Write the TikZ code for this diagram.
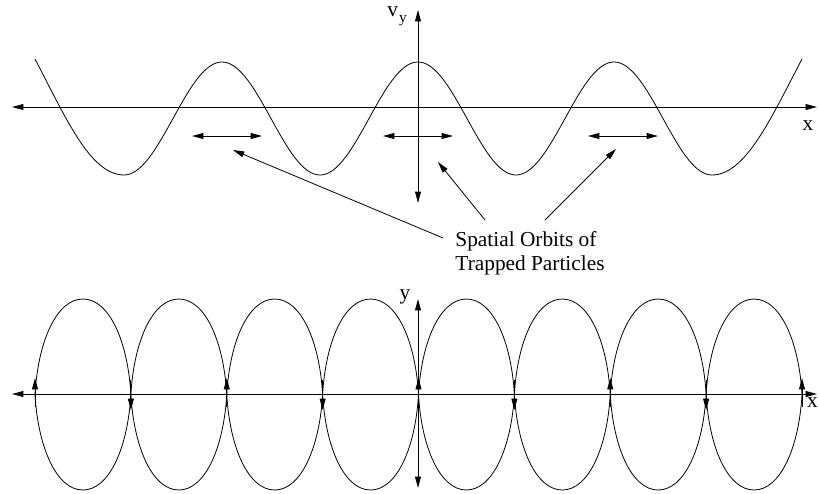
\documentclass[tikz,border=0pt]{standalone}
\usepackage{fontspec}
\setmainfont{Liberation Serif}
\usetikzlibrary{arrows.meta}
\begin{document}
\begin{tikzpicture}[x=0.75pt,y=-0.75pt,line width=0.7pt,
  tipend/.style={-{Triangle[length=8.5pt,width=4.4pt]}},
  tipboth/.style={{Triangle[length=8.5pt,width=4.4pt]}-{Triangle[length=8.5pt,width=4.4pt]}},
  lbl/.style={font=\fontsize{16}{18}\selectfont,inner sep=0pt},
  curve/.style={line width=0.6pt}]
\useasboundingbox (0,0) rectangle (818,493);
% ---------- top panel ----------
\coordinate (axl) at (12,107);
\coordinate (axr) at (817,107);
\coordinate (ayt) at (418,10);
\coordinate (ayb) at (418,203);
\draw[tipboth] (axl) -- (axr);
\draw[tipboth] (ayb) -- (ayt);
\node[lbl,anchor=base west] (vy) at (387,16.5) {v\kern0.8pt\raisebox{-4.6pt}{\fontsize{11.5}{12}\selectfont y}};
\node[lbl,anchor=base] (xt) at (808,130.5) {x};
% wave
\draw[curve] (35,59) .. controls (65,116) and (90,175) .. (124,175)
  -- plot[domain=124:712,samples=200] (\x,{118.5-56.5*cos((\x-418)*1.836735)})
  -- (712,175) .. controls (746,175) and (772,116) .. (802,59);
% orbit arrows
\coordinate (o1a) at (192,136); \coordinate (o1b) at (262,136);
\coordinate (o2a) at (383,136); \coordinate (o2b) at (453,136);
\coordinate (o3a) at (588,136); \coordinate (o3b) at (658,136);
\draw[tipboth] (o1a) -- (o1b);
\draw[tipboth] (o2a) -- (o2b);
\draw[tipboth] (o3a) -- (o3b);
% label
\node[lbl,anchor=base west] (t1) at (455,246) {Spatial Orbits of};
\node[lbl,anchor=base west] (t2) at (455,270) {Trapped Particles};
\coordinate (p1) at (443,238); \coordinate (q1) at (233,150);
\coordinate (p2) at (485,220); \coordinate (q2) at (438,162);
\coordinate (p3) at (545,220); \coordinate (q3) at (616,149);
\draw[tipend,line width=0.6pt] (p1) -- (q1);
\draw[tipend,line width=0.6pt] (p2) -- (q2);
\draw[tipend,line width=0.6pt] (p3) -- (q3);
% ---------- bottom panel ----------
\coordinate (bxl) at (12,394);
\coordinate (bxr) at (817,394);
\coordinate (byt) at (418,299);
\coordinate (byb) at (418,488);
\draw[tipboth] (bxl) -- (bxr);
\draw[tipboth] (byb) -- (byt);
\node[lbl,anchor=base] (yb) at (405,299.6) {y};
\node[lbl,anchor=base] (xb) at (812.5,407.5) {x};
\foreach \i in {0,...,7}{
  \pgfmathsetmacro\xl{35+95.875*\i}
  \pgfmathsetmacro\xc{\xl+47.9375}
  \pgfmathsetmacro\xr{\xl+95.875}
  \draw[curve] (\xl,394.5)
    .. controls ({\xl+3},341.8) and ({\xc-26.5},299) .. (\xc,299)
    .. controls ({\xc+26.5},299) and ({\xr-3},341.8) .. (\xr,394.5)
    .. controls ({\xr-3},447.2) and ({\xc+26.5},490) .. (\xc,490)
    .. controls ({\xc-26.5},490) and ({\xl+3},447.2) .. cycle;
}
\foreach \i in {0,2,4,6,8}{
  \coordinate (ua\i) at ({35+95.875*\i},407);
  \coordinate (ub\i) at ({35+95.875*\i},378);
  \draw[tipend] (ua\i) -- (ub\i);
}
\foreach \i in {1,3,5,7}{
  \coordinate (da\i) at ({35+95.875*\i},380);
  \coordinate (db\i) at ({35+95.875*\i},410);
  \draw[tipend] (da\i) -- (db\i);
}
\end{tikzpicture}
\end{document}
